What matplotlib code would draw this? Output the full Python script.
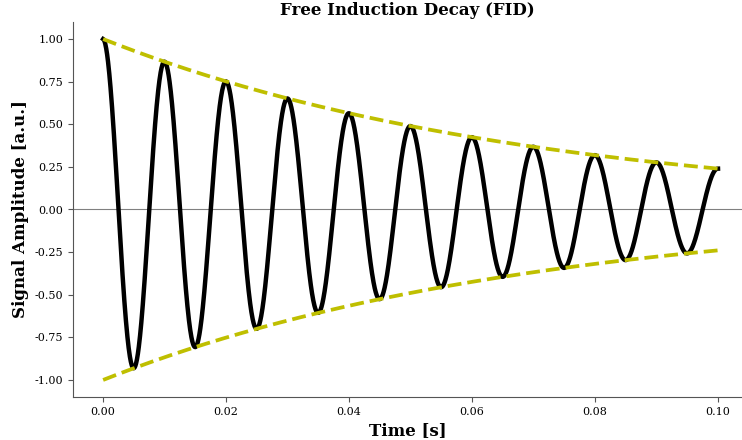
import numpy as np
import matplotlib.pyplot as plt

# FID parameters
freq_hz = 100.0       # precession frequency
t2_s = 0.07           # decay constant
t_start, t_end = 0.0, 0.1
n_samples = 2000

t = np.linspace(t_start, t_end, n_samples)
envelope = np.exp(-t / t2_s)
signal = np.cos(2 * np.pi * freq_hz * t) * envelope

plt.rcParams['font.family'] = 'DejaVu Serif'

fig = plt.figure(figsize=(7.42, 4.4), dpi=100)
ax = fig.add_axes([73 / 742, 1 - 397 / 440, (742 - 73) / 742, (397 - 22) / 440])

ax.axhline(0, color='gray', lw=0.8)
ax.plot(t, signal, color='black', lw=3.2)
ax.plot(t, envelope, color='y', lw=2.7, ls='--')
ax.plot(t, -envelope, color='y', lw=2.7, ls='--')

ax.set_xlim(-0.0049, 0.1039)
ax.set_ylim(-1.1, 1.1)
ax.set_xticks([0.0, 0.02, 0.04, 0.06, 0.08, 0.10])
ax.set_yticks([-1.0, -0.75, -0.5, -0.25, 0.0, 0.25, 0.5, 0.75, 1.0])
ax.xaxis.set_major_formatter(plt.FormatStrFormatter('%.2f'))
ax.yaxis.set_major_formatter(plt.FormatStrFormatter('%.2f'))
ax.tick_params(labelsize=8, color='#555555')

for side in ('top', 'right'):
    ax.spines[side].set_visible(False)
for side in ('left', 'bottom'):
    ax.spines[side].set_color('#555555')

ax.set_title('Free Induction Decay (FID)', fontsize=12, fontweight='bold', pad=5)
ax.set_xlabel('Time [s]', fontsize=12, fontweight='bold')
ax.set_ylabel('Signal Amplitude [a.u.]', fontsize=12, fontweight='bold')

fig.savefig('out.png', dpi=100)
